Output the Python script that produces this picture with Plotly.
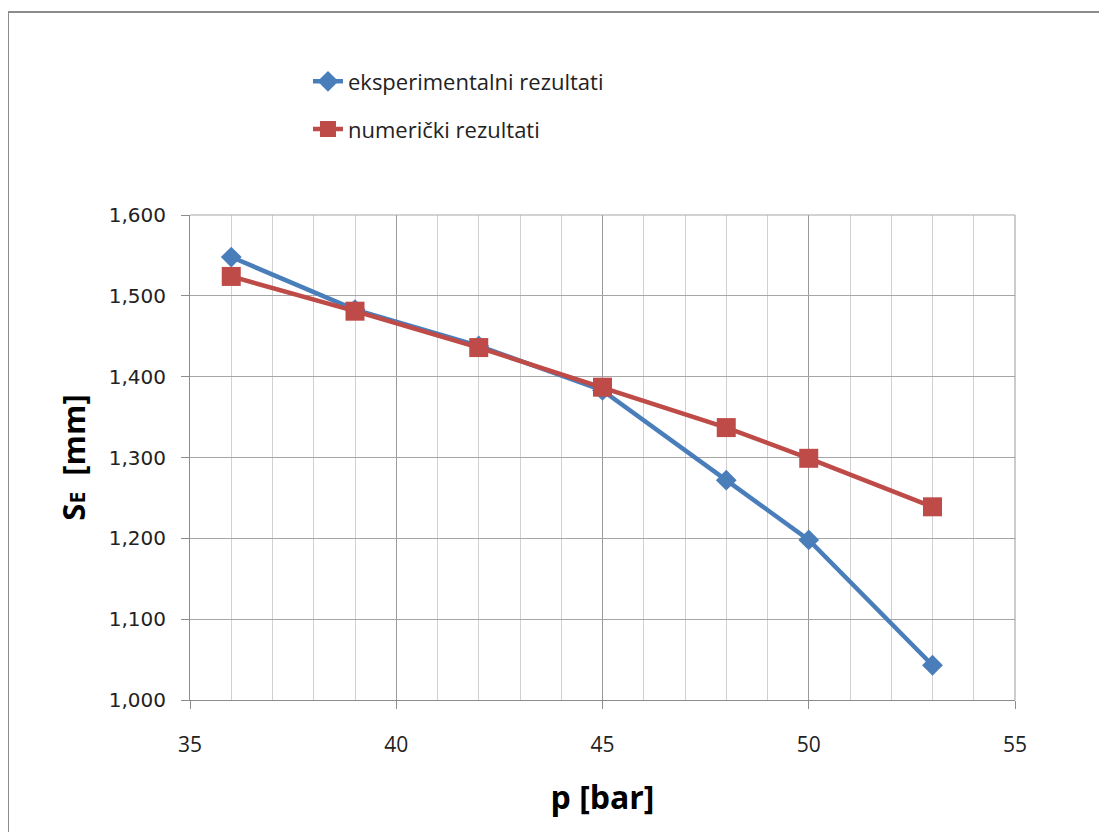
import plotly.graph_objects as go

p_bar = [36, 39, 42, 45, 48, 50, 53]
eksperimentalni = [1.548, 1.483, 1.438, 1.383, 1.272, 1.198, 1.043]
numericki = [1.524, 1.481, 1.436, 1.387, 1.337, 1.299, 1.239]

y_ticks = [1.0, 1.1, 1.2, 1.3, 1.4, 1.5, 1.6]
y_tick_labels = ["1,000", "1,100", "1,200", "1,300", "1,400", "1,500", "1,600"]

FONT = "Open Sans, Liberation Sans, sans-serif"

fig = go.Figure()
fig.add_trace(go.Scatter(
    x=p_bar, y=eksperimentalni, mode="lines+markers",
    name="eksperimentalni rezultati", legendgroup="a",
    line=dict(color="#4a7ebb", width=4.5),
    marker=dict(symbol="diamond", size=16, color="#4a7ebb"),
))
fig.add_trace(go.Scatter(
    x=p_bar, y=numericki, mode="lines+markers",
    name="numerički rezultati", legendgroup="b",
    line=dict(color="#be4b48", width=4.5),
    marker=dict(symbol="square", size=19, color="#be4b48"),
))

# page body has an 8px margin, so margins are offset by 8px
fig.update_layout(
    width=1107, height=832,
    margin=dict(l=182, r=100, t=207, b=140),
    paper_bgcolor="white", plot_bgcolor="white",
    font=dict(family=FONT, color="#222222"),
    legend=dict(x=0.143, y=1.3185, xanchor="left", yanchor="top",
                font=dict(size=22, family=FONT, color="#222222"),
                bgcolor="rgba(0,0,0,0)", traceorder="grouped",
                tracegroupgap=16),
    xaxis=dict(
        range=[35, 55], dtick=5, tick0=35,
        showgrid=True, gridcolor="#9a9a9a", gridwidth=1,
        minor=dict(dtick=1, showgrid=True, gridcolor="#d0d0d0", gridwidth=1),
        ticks="outside", ticklen=8, tickcolor="#8c8c8c",
        showline=True, linecolor="#8c8c8c", linewidth=1,
        zeroline=False, ticklabelstandoff=18,
        tickfont=dict(size=21, family=FONT, color="#222222"),
        title=dict(text="<b>p [bar]</b>", font=dict(size=32, family=FONT, color="#000000"), standoff=29),
    ),
    yaxis=dict(
        range=[1.0, 1.6], tickvals=y_ticks, ticktext=y_tick_labels,
        showgrid=True, gridcolor="#a6a6a6", gridwidth=1,
        ticks="outside", ticklen=8, tickcolor="#8c8c8c",
        showline=True, linecolor="#8c8c8c", linewidth=1,
        zeroline=False, ticklabelstandoff=11,
        tickfont=dict(size=20, family="DejaVu Sans, sans-serif", color="#222222"),
        title=dict(text="<b>S<span style='font-size:21px'>E</span>  [mm]</b>",
                   font=dict(size=31, family=FONT, color="#000000"), standoff=13),
    ),
)

# outer chart border
fig.add_shape(type="rect", xref="paper", yref="paper",
              x0=(8 - 190) / 825, x1=(1140 - 190) / 825,
              y0=(700 - 860) / 485, y1=(700 - 12) / 485,
              line=dict(color="#8c8c8c", width=2), layer="below")
# right and top edges of the plot area
fig.add_shape(type="line", xref="paper", yref="paper",
              x0=1, x1=1, y0=0, y1=1, line=dict(color="#9a9a9a", width=1))
fig.add_shape(type="line", xref="paper", yref="paper",
              x0=0, x1=1, y0=1, y1=1, line=dict(color="#a6a6a6", width=1))

fig.write_html("out.html")
